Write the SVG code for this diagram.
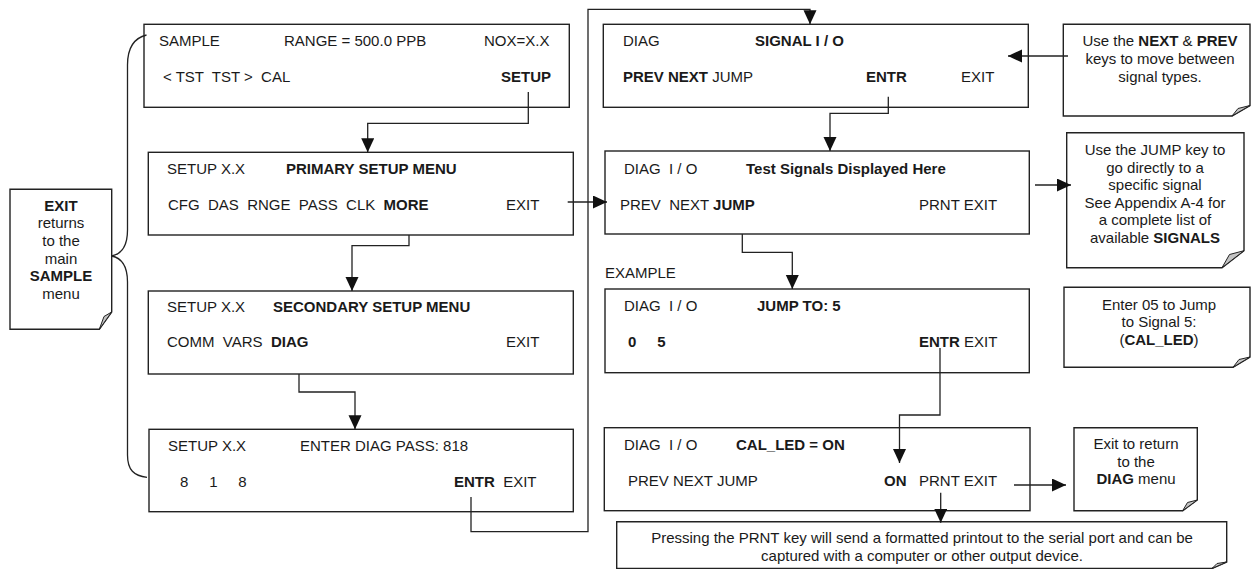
<svg xmlns="http://www.w3.org/2000/svg" width="1251" height="569" viewBox="0 0 1251 569">
<style>
.box{fill:#fff;stroke:#222;stroke-width:1.4}
.note{fill:#fff;stroke:#222;stroke-width:1.4}
.fold{fill:#c4c4c4;stroke:#222;stroke-width:1}
.conn{fill:none;stroke:#222;stroke-width:1.3}
text{font-family:"Liberation Sans",Arial,sans-serif;font-size:15px;fill:#1a1a1a}
.b{font-weight:bold}
.c{text-anchor:middle}
.e{text-anchor:end}
</style>
<defs>
<marker id="ah" markerUnits="userSpaceOnUse" markerWidth="14" markerHeight="14" refX="14" refY="6.5" orient="auto">
<path d="M0,0 L14,6.5 L0,13 z" fill="#111"/>
</marker>
</defs>
<rect width="1251" height="569" fill="#fff"/>

<g id="sample">
<rect class="box" x="144" y="24.3" width="425.3" height="83"/>
<text x="159" y="46">SAMPLE</text>
<text x="284" y="46">RANGE = 500.0 PPB</text>
<text x="484" y="46">NOX=X.X</text>
<text x="163" y="82" xml:space="preserve">&lt; TST  TST &gt;  CAL</text>
<text class="b e" x="551" y="82">SETUP</text>
</g>

<g id="primary">
<rect class="box" x="148.3" y="152.3" width="425" height="82.7"/>
<text x="167" y="174">SETUP X.X</text>
<text class="b" x="286" y="174">PRIMARY SETUP MENU</text>
<text x="168" y="210" xml:space="preserve">CFG  DAS  RNGE  PASS  CLK  <tspan class="b">MORE</tspan></text>
<text x="506" y="210">EXIT</text>
</g>

<g id="secondary">
<rect class="box" x="148.3" y="291" width="425" height="83"/>
<text x="167" y="312">SETUP X.X</text>
<text class="b" x="273" y="312">SECONDARY SETUP MENU</text>
<text x="167" y="347" xml:space="preserve">COMM  VARS  <tspan class="b">DIAG</tspan></text>
<text x="506" y="347">EXIT</text>
</g>

<g id="diagpass">
<rect class="box" x="149" y="429.3" width="424.3" height="82.4"/>
<text x="168" y="451">SETUP X.X</text>
<text x="300" y="451">ENTER DIAG PASS: 818</text>
<text x="180" y="487" xml:space="preserve">8     1     8</text>
<text x="454" y="487" xml:space="preserve"><tspan class="b">ENTR</tspan>  EXIT</text>
</g>

<g id="signalio">
<rect class="box" x="603.3" y="24.3" width="425" height="83"/>
<text x="623" y="46">DIAG</text>
<text class="b" x="755" y="46">SIGNAL I / O</text>
<text x="623" y="82"><tspan class="b">PREV NEXT</tspan> JUMP</text>
<text class="b" x="866" y="82">ENTR</text>
<text x="961" y="82">EXIT</text>
</g>

<g id="testsignals">
<rect class="box" x="605" y="151" width="424.3" height="83"/>
<text x="624" y="174" xml:space="preserve">DIAG  I / O</text>
<text class="b" x="746" y="174">Test Signals Displayed Here</text>
<text x="620" y="210" xml:space="preserve">PREV  NEXT <tspan class="b">JUMP</tspan></text>
<text x="919" y="210">PRNT EXIT</text>
</g>

<g id="example">
<text x="605" y="278">EXAMPLE</text>
</g>

<g id="jumpto">
<rect class="box" x="605" y="289" width="424.3" height="83.7"/>
<text x="624" y="311" xml:space="preserve">DIAG  I / O</text>
<text class="b" x="757" y="311">JUMP TO: 5</text>
<text class="b" x="628" y="347" xml:space="preserve">0     5</text>
<text x="919" y="347"><tspan class="b">ENTR</tspan> EXIT</text>
</g>

<g id="called">
<rect class="box" x="604.3" y="427.7" width="425.7" height="83"/>
<text x="624" y="450" xml:space="preserve">DIAG  I / O</text>
<text class="b" x="736" y="450">CAL_LED = ON</text>
<text x="628" y="486">PREV NEXT JUMP</text>
<text class="b" x="884" y="486">ON</text>
<text x="919" y="486">PRNT EXIT</text>
</g>

<g id="note-exit">
<path class="note" d="M10,189.3 H111.7 V312 L99.3,329.3 H10 Z"/>
<polygon class="fold" points="111.7,312 99.3,329.3 104,316.5"/>
<text class="b c" x="61" y="210.5">EXIT</text>
<text class="c" x="61" y="228.2">returns</text>
<text class="c" x="61" y="245.9">to the</text>
<text class="c" x="61" y="263.6">main</text>
<text class="b c" x="61" y="281.3">SAMPLE</text>
<text class="c" x="61" y="299">menu</text>
</g>

<g id="note-nextprev">
<path class="note" d="M1063.3,24.3 H1250 V105.5 L1232,116 H1063.3 Z"/>
<polygon class="fold" points="1250,105.5 1232,116 1238,108.5"/>
<text class="c" x="1160" y="46">Use the <tspan class="b">NEXT</tspan> &amp; <tspan class="b">PREV</tspan></text>
<text class="c" x="1160" y="64">keys to move between</text>
<text class="c" x="1160" y="81.7">signal types.</text>
</g>

<g id="note-jump">
<path class="note" d="M1066.7,132.7 H1244 V250.7 L1222,267.7 H1066.7 Z"/>
<polygon class="fold" points="1244,250.7 1222,267.7 1229.5,254.5"/>
<text class="c" x="1155" y="155">Use the JUMP key to</text>
<text class="c" x="1155" y="172.5">go directly to a</text>
<text class="c" x="1155" y="190">specific signal</text>
<text class="c" x="1155" y="207.5">See Appendix A-4 for</text>
<text class="c" x="1155" y="225">a complete list of</text>
<text class="c" x="1155" y="242.5">available <tspan class="b">SIGNALS</tspan></text>
</g>

<g id="note-enter05">
<path class="note" d="M1064,287.3 H1250 V357 L1233,367.3 H1064 Z"/>
<polygon class="fold" points="1250,357 1233,367.3 1239,359.5"/>
<text class="c" x="1159" y="309.5">Enter 05 to Jump</text>
<text class="c" x="1159" y="327">to Signal 5:</text>
<text class="c" x="1159" y="344.5">(<tspan class="b">CAL_LED</tspan>)</text>
</g>

<g id="note-exitdiag">
<path class="note" d="M1074,427.7 H1197.3 V500 L1182.7,510.7 H1074 Z"/>
<polygon class="fold" points="1197.3,500 1182.7,510.7 1187.5,502.5"/>
<text class="c" x="1136" y="449">Exit to return</text>
<text class="c" x="1136" y="466.5">to the</text>
<text class="c" x="1136" y="484"><tspan class="b">DIAG</tspan> menu</text>
</g>

<g id="note-prnt">
<path class="note" d="M616.7,521.7 H1226.7 V562 L1212,568.5 H616.7 Z"/>
<polygon class="fold" points="1226.7,562 1212,568.5 1217,563.5"/>
<text class="c" x="922" y="543.3">Pressing the PRNT key will send a formatted printout to the serial port and can be</text>
<text class="c" x="922" y="561">captured with a computer or other output device.</text>
</g>

<g id="brace">
<path class="conn" d="M146.5,35 C134,38 127.5,48 127.5,65 L127.5,230 C127.5,245 122,254 111.5,256 C122,258 127.5,267 127.5,282 L127.5,455 C127.5,470 134,476 147,477.3"/>
</g>

<g id="connectors">
<path class="conn" marker-end="url(#ah)" d="M528.3,92 V123.3 H367.7 V152.3"/>
<path class="conn" marker-end="url(#ah)" d="M409,235 V245.7 H352 V291"/>
<path class="conn" marker-end="url(#ah)" d="M299,374 V392 H355 V429.3"/>
<path class="conn" marker-end="url(#ah)" d="M471,497 V531.7 H588 V9.3 H810 V24.3"/>
<path class="conn" marker-end="url(#ah)" d="M567.7,202 H607"/>
<path class="conn" marker-end="url(#ah)" d="M888.3,96.7 V113.3 H830 V151"/>
<path class="conn" marker-end="url(#ah)" d="M742.3,234 V252.3 H792.3 V289"/>
<path class="conn" marker-end="url(#ah)" d="M940,348 V415 H899.5 V463"/>
<path class="conn" marker-end="url(#ah)" d="M1014,485 H1066"/>
<path class="conn" marker-end="url(#ah)" d="M940.7,492.7 V522.7"/>
<path class="conn" marker-end="url(#ah)" d="M1068,56 H1008"/>
<path class="conn" marker-end="url(#ah)" d="M1035,185 H1071"/>
</g>
</svg>
